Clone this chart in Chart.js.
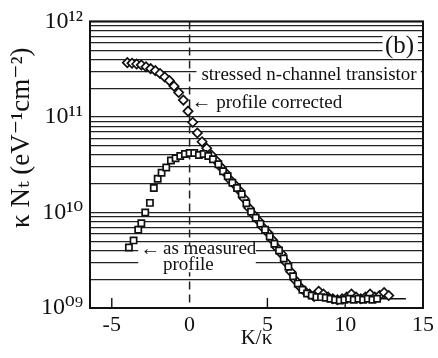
<!DOCTYPE html>
<html><head><meta charset="utf-8">
<script src="https://cdn.jsdelivr.net/npm/chart.js@4"></script>
<style>html,body{margin:0;padding:0;background:#fff}#wrap{width:438px;height:358px;position:relative}</style>
</head><body><div id="wrap"><canvas id="c"></canvas></div>
<script>
// ---- data (Nt values in units of 1e9 eV^-1 cm^-2) ----
const UNIT = 1e9;
const correctedK = [-4.0,-3.7,-3.4,-3.1,-2.8,-2.5,-2.2,-1.9,-1.6,-1.3,-1.0,-0.7,-0.4,-0.1,0.2,0.5,0.8,1.1,1.4,1.7,2.0,2.3,2.6,2.9,3.2,3.5,3.8,4.1,4.4,4.7,5.0,5.3,5.6,5.9,6.2,6.5,6.8,7.1,7.4,7.7,8.0,8.3,8.6,8.9,9.2,9.5,9.8,10.1,10.4,10.7,11.0,11.3,11.6,11.9,12.2,12.5,12.8];
const correctedN = [370,365,358,350,335,320,305,285,262,240,210,180,150,115,88,68,55,47,40,35,30,26,22,19.5,17,14,11.2,9.5,8.3,7.0,6.2,5.2,4.3,3.7,3.0,2.4,1.95,1.66,1.5,1.4,1.32,1.5,1.4,1.3,1.25,1.22,1.25,1.3,1.4,1.3,1.25,1.3,1.4,1.3,1.35,1.45,1.35];
const measuredK = [-3.9,-3.6,-3.3,-3.1,-2.85,-2.55,-2.3,-2.05,-1.8,-1.5,-1.2,-0.9,-0.6,-0.3,0.0,0.3,0.6,0.9,1.2,1.5,1.85,2.15,2.45,2.75,3.05,3.35,3.65,3.95,4.25,4.55,4.85,5.15,5.45,5.75,6.05,6.35,6.65,6.95,7.25,7.55,7.85,8.15,8.45,8.75,9.05,9.35,9.65,9.95,10.25,10.55,10.85,11.15,11.45,11.75,12.05];
const measuredN = [4.3,5.1,6.6,7.7,10,12.6,18,22.5,26,29.5,35,37,39,41,42,42,40,41,39,36,32,27,24,20.5,18,15.5,12.5,10.2,8.8,7.6,6.6,5.6,4.7,4.0,3.3,2.7,2.15,1.8,1.55,1.42,1.35,1.3,1.3,1.28,1.25,1.22,1.2,1.22,1.25,1.22,1.25,1.22,1.25,1.22,1.25];
const tailK = [12.0, 13.9];
const tailN = [1.25, 1.25];
const xTickValues = [-5, 0, 5, 10, 15];
const yMajorValues = [1e9, 1e10, 1e11, 1e12];
const yMajorLabels = ['10\u2070\u2079', '10\u00B9\u2070', '10\u00B9\u00B9', '10\u00B9\u00B2'];
const minorMantissas = [1,2,3,4,5,6,7,8,9];
const xTitle = 'K/\u03BA';
const yTitle = '\u2002\u2002\u2002\u2002\u03BA N\u209C (eV\u207B\u00B9cm\u207B\u00B2)';

// ---- annotation texts ----
const SERIF = '"Liberation Serif","DejaVu Serif",serif';
const notes = [
  {text: '(b)', x: 12.55, y: 5.5e11, size: 25},
  {text: 'stressed n-channel transistor', x: 0.76, y: 2.74e11, size: 19},
  {text: '\u2190', x: 0.13, y: 1.4e11, size: 20},
  {text: 'profile corrected', x: 1.71, y: 1.4e11, size: 19},
  {text: '\u2190', x: -3.17, y: 4.12e9, size: 20},
  {text: 'as measured', x: -1.71, y: 4.12e9, size: 19},
  {text: 'profile', x: -1.71, y: 2.8e9, size: 19}
];
const maskBoxes = [
  {x0: 12.4, x1: 14.67, y0: 4.2e11, y1: 7.7e11},
  {x0: 0.44, x1: 14.86, y0: 2.1e11, y1: 3.74e11},
  {x0: -3.3, x1: 4.25, y0: 2.37e9, y1: 4.53e9}
];

const toXY = (ks, ns) => ks.map((k, i) => ({x: k, y: ns[i] * UNIT}));

const overlay = {
  id: 'overlay',
  beforeDraw(chart) {
    const ctx = chart.ctx;
    ctx.save(); ctx.fillStyle = '#fff'; ctx.fillRect(0, 0, chart.width, chart.height); ctx.restore();
  },
  beforeDatasetsDraw(chart) {
    const {ctx, chartArea: a, scales: {x, y}} = chart;
    ctx.save();
    ctx.strokeStyle = '#222'; ctx.lineWidth = 1.5; ctx.setLineDash([8, 5]);
    const x0 = x.getPixelForValue(0);
    ctx.beginPath(); ctx.moveTo(x0, a.top); ctx.lineTo(x0, a.bottom); ctx.stroke();
    ctx.setLineDash([]);
    ctx.fillStyle = '#fff';
    maskBoxes.forEach(b => {
      const px0 = x.getPixelForValue(b.x0), px1 = x.getPixelForValue(b.x1);
      const py0 = y.getPixelForValue(b.y1), py1 = y.getPixelForValue(b.y0);
      ctx.fillRect(px0, py0, px1 - px0, py1 - py0);
    });
    ctx.fillStyle = '#111'; ctx.textBaseline = 'middle'; ctx.textAlign = 'left';
    notes.forEach(n => {
      ctx.font = n.size + 'px ' + SERIF;
      ctx.fillText(n.text, x.getPixelForValue(n.x), y.getPixelForValue(n.y));
    });
    ctx.strokeStyle = '#111'; ctx.lineWidth = 1.4;
    xTickValues.forEach(v => {
      if (v === 0 || v >= x.max || v <= x.min) return;
      const px = x.getPixelForValue(v);
      ctx.beginPath(); ctx.moveTo(px, a.bottom); ctx.lineTo(px, a.bottom - 10); ctx.stroke();
    });
    ctx.restore();
  },
  afterDraw(chart) {
    const {ctx, chartArea: a} = chart;
    ctx.save(); ctx.strokeStyle = '#111'; ctx.lineWidth = 2;
    ctx.strokeRect(a.left, a.top, a.right - a.left, a.bottom - a.top);
    ctx.restore();
  }
};

new Chart(document.getElementById('c'), {
  type: 'scatter',
  data: {
    datasets: [
      {label: 'as measured profile', data: toXY(measuredK, measuredN), pointStyle: 'rect', pointRadius: 4.4,
       backgroundColor: '#fff', borderColor: '#111', borderWidth: 1.7, showLine: false},
      {label: 'profile corrected', data: toXY(correctedK, correctedN), pointStyle: 'rectRot', pointRadius: 4.6,
       backgroundColor: '#fff', borderColor: '#111', borderWidth: 1.7, showLine: false},
      {label: 'tail', data: toXY(tailK, tailN), showLine: true, pointRadius: 0, borderColor: '#111', borderWidth: 1.4}
    ]
  },
  options: {
    responsive: true, maintainAspectRatio: false, animation: false,
    layout: {padding: {top: 20, right: 11, left: 0, bottom: 0}},
    plugins: {legend: {display: false}, tooltip: {enabled: false}},
    scales: {
      x: {
        type: 'linear', min: -6.4, max: 15,
        afterBuildTicks: s => { s.ticks = xTickValues.map(v => ({value: v})); },
        afterFit: s => { s.height = 50; },
        grid: {display: false, drawTicks: false}, border: {display: false},
        ticks: {color: '#111', font: {family: SERIF, size: 22}, padding: 4, autoSkip: false, maxRotation: 0,
                callback: v => String(v)},
        title: {display: true, text: xTitle, color: '#111', font: {family: SERIF, size: 21, lineHeight: 1}, padding: {top: 0, bottom: 9}}
      },
      y: {
        type: 'logarithmic', min: 1e9, max: 1e12,
        afterBuildTicks: s => {
          const t = [];
          for (let e = 9; e < 12; e++) minorMantissas.forEach(m => t.push({value: m * Math.pow(10, e)}));
          t.push({value: 1e12});
          s.ticks = t;
        },
        afterFit: s => { s.width = 90; },
        grid: {color: '#222', lineWidth: 1.2, drawTicks: false}, border: {display: false},
        ticks: {color: '#111', font: {family: SERIF, size: 24}, padding: 7, autoSkip: false,
                callback: v => { const i = yMajorValues.findIndex(m => Math.abs(m - v) / m < 1e-6); return i >= 0 ? yMajorLabels[i] : ''; }},
        title: {display: true, text: yTitle, color: '#111', font: {family: SERIF, size: 27, lineHeight: 1}, padding: {top: 8, bottom: 0}}
      }
    }
  },
  plugins: [overlay]
});
</script></body></html>
